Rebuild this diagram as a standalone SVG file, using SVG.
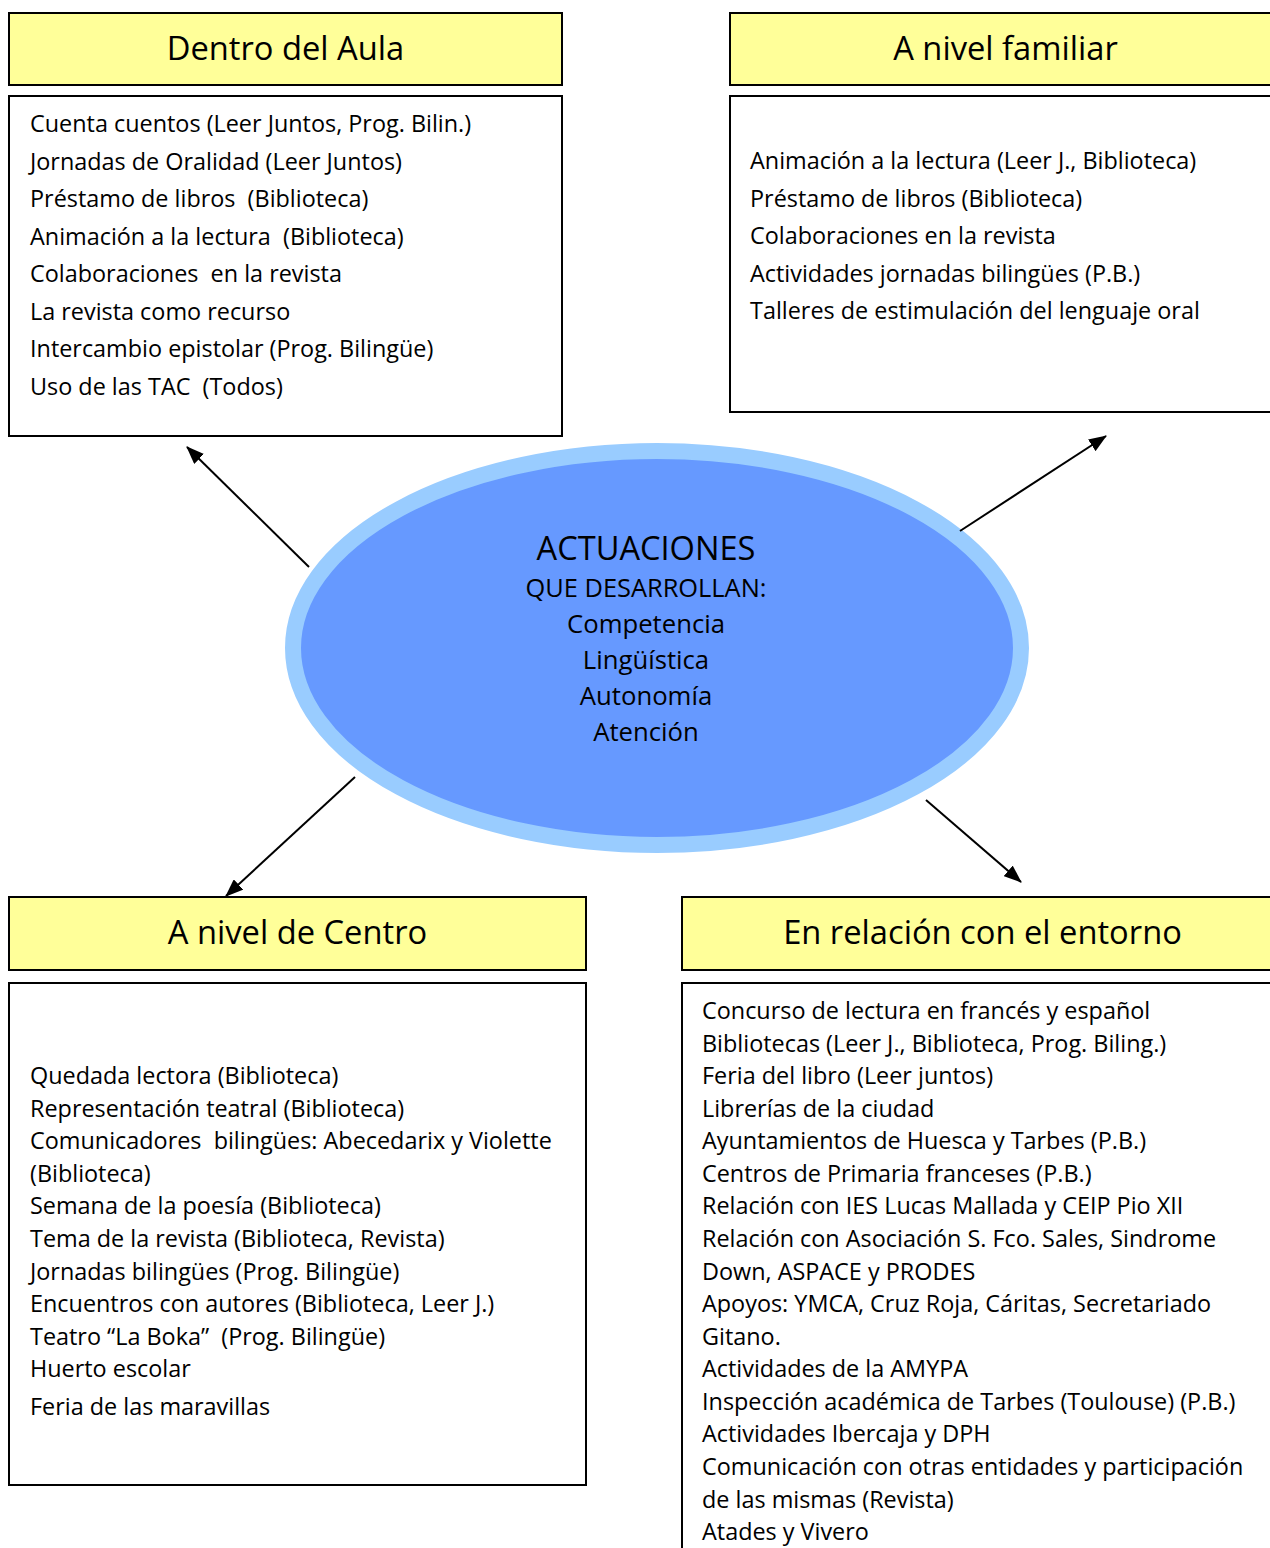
<svg xmlns="http://www.w3.org/2000/svg" width="1270" height="1548" viewBox="0 0 1270 1548">
<style>
  .hdr { fill: #FFFF99; stroke: #000; stroke-width: 2; }
  .body { fill: #FFFFFF; stroke: #000; stroke-width: 2; }
  .ht { font-family: "Open Sans", "Noto Sans", sans-serif; font-size: 32.7px; fill: #000; text-anchor: middle; }
  .t { font-family: "Open Sans", "Noto Sans", sans-serif; font-size: 23.4px; fill: #000; }
  .ct { font-family: "Open Sans", "Noto Sans", sans-serif; fill: #000; text-anchor: middle; }
  .conn { stroke: #000; stroke-width: 2; fill: none; marker-end: url(#arr); }
</style>
<defs>
  <marker id="arr" markerUnits="userSpaceOnUse" markerWidth="18" markerHeight="14" refX="17" refY="7" orient="auto">
    <path d="M0,0 L18,7 L0,14 Z" fill="#000"/>
  </marker>
</defs>
<rect width="1270" height="1548" fill="#FFFFFF"/>

<g id="node-dentro-aula">
  <rect class="hdr" x="9" y="13" width="553" height="72"/>
  <text class="ht" x="285.5" y="60">Dentro del Aula</text>
  <rect class="body" x="9" y="96" width="553" height="340"/>
  <text class="t" x="30" y="132">Cuenta cuentos (Leer Juntos, Prog. Bilin.)</text>
  <text class="t" x="30" y="169.5">Jornadas de Oralidad (Leer Juntos)</text>
  <text class="t" x="30" y="207" xml:space="preserve">Préstamo de libros  (Biblioteca)</text>
  <text class="t" x="30" y="244.5" xml:space="preserve">Animación a la lectura  (Biblioteca)</text>
  <text class="t" x="30" y="282" xml:space="preserve">Colaboraciones  en la revista</text>
  <text class="t" x="30" y="319.5">La revista como recurso</text>
  <text class="t" x="30" y="357">Intercambio epistolar (Prog. Bilingüe)</text>
  <text class="t" x="30" y="394.5" xml:space="preserve">Uso de las TAC  (Todos)</text>
</g>

<g id="node-nivel-familiar">
  <rect class="hdr" x="730" y="13" width="560" height="72"/>
  <text class="ht" x="1005.5" y="60">A nivel familiar</text>
  <rect class="body" x="730" y="96" width="560" height="316"/>
  <text class="t" x="750" y="169">Animación a la lectura (Leer J., Biblioteca)</text>
  <text class="t" x="750" y="206.5">Préstamo de libros (Biblioteca)</text>
  <text class="t" x="750" y="244">Colaboraciones en la revista</text>
  <text class="t" x="750" y="281.5">Actividades jornadas bilingües (P.B.)</text>
  <text class="t" x="750" y="319">Talleres de estimulación del lenguaje oral</text>
</g>

<g id="node-actuaciones">
  <ellipse cx="657" cy="648" rx="364" ry="197" fill="#6699FF" stroke="#99CCFF" stroke-width="16"/>
  <text class="ct" x="646" y="560" font-size="32.6">ACTUACIONES</text>
  <text class="ct" x="646" y="597" font-size="25.4">QUE DESARROLLAN:</text>
  <text class="ct" x="646" y="633" font-size="25.7">Competencia</text>
  <text class="ct" x="646" y="669" font-size="25.7">Lingüística</text>
  <text class="ct" x="646" y="705" font-size="25.7">Autonomía</text>
  <text class="ct" x="646" y="741" font-size="25.7">Atención</text>
</g>

<g id="node-nivel-centro">
  <rect class="hdr" x="9" y="897" width="577" height="73"/>
  <text class="ht" x="297.5" y="944">A nivel de Centro</text>
  <rect class="body" x="9" y="983" width="577" height="502"/>
  <text class="t" x="30" y="1084">Quedada lectora (Biblioteca)</text>
  <text class="t" x="30" y="1117">Representación teatral (Biblioteca)</text>
  <text class="t" x="30" y="1149" xml:space="preserve">Comunicadores  bilingües: Abecedarix y Violette</text>
  <text class="t" x="30" y="1182">(Biblioteca)</text>
  <text class="t" x="30" y="1214">Semana de la poesía (Biblioteca)</text>
  <text class="t" x="30" y="1247">Tema de la revista (Biblioteca, Revista)</text>
  <text class="t" x="30" y="1280">Jornadas bilingües (Prog. Bilingüe)</text>
  <text class="t" x="30" y="1312">Encuentros con autores (Biblioteca, Leer J.)</text>
  <text class="t" x="30" y="1345" xml:space="preserve">Teatro “La Boka”  (Prog. Bilingüe)</text>
  <text class="t" x="30" y="1377">Huerto escolar</text>
  <text class="t" x="30" y="1415">Feria de las maravillas</text>
</g>

<g id="node-entorno">
  <rect class="hdr" x="682" y="897" width="610" height="73"/>
  <text class="ht" x="982.5" y="944">En relación con el entorno</text>
  <rect class="body" x="682" y="983" width="610" height="600"/>
  <text class="t" x="702" y="1019">Concurso de lectura en francés y español</text>
  <text class="t" x="702" y="1052">Bibliotecas (Leer J., Biblioteca, Prog. Biling.)</text>
  <text class="t" x="702" y="1084">Feria del libro (Leer juntos)</text>
  <text class="t" x="702" y="1117">Librerías de la ciudad</text>
  <text class="t" x="702" y="1149">Ayuntamientos de Huesca y Tarbes (P.B.)</text>
  <text class="t" x="702" y="1182">Centros de Primaria franceses (P.B.)</text>
  <text class="t" x="702" y="1214">Relación con IES Lucas Mallada y CEIP Pio XII</text>
  <text class="t" x="702" y="1247">Relación con Asociación S. Fco. Sales, Sindrome</text>
  <text class="t" x="702" y="1280">Down, ASPACE y PRODES</text>
  <text class="t" x="702" y="1312">Apoyos: YMCA, Cruz Roja, Cáritas, Secretariado</text>
  <text class="t" x="702" y="1345">Gitano.</text>
  <text class="t" x="702" y="1377">Actividades de la AMYPA</text>
  <text class="t" x="702" y="1410">Inspección académica de Tarbes (Toulouse) (P.B.)</text>
  <text class="t" x="702" y="1442">Actividades Ibercaja y DPH</text>
  <text class="t" x="702" y="1475">Comunicación con otras entidades y participación</text>
  <text class="t" x="702" y="1508">de las mismas (Revista)</text>
  <text class="t" x="702" y="1540">Atades y Vivero</text>
</g>

<g id="connectors">
  <line class="conn" x1="309" y1="567" x2="187" y2="447"/>
  <line class="conn" x1="960" y1="531" x2="1106" y2="436"/>
  <line class="conn" x1="355" y1="777" x2="226" y2="896"/>
  <line class="conn" x1="926" y1="800" x2="1021" y2="882"/>
</g>
</svg>
